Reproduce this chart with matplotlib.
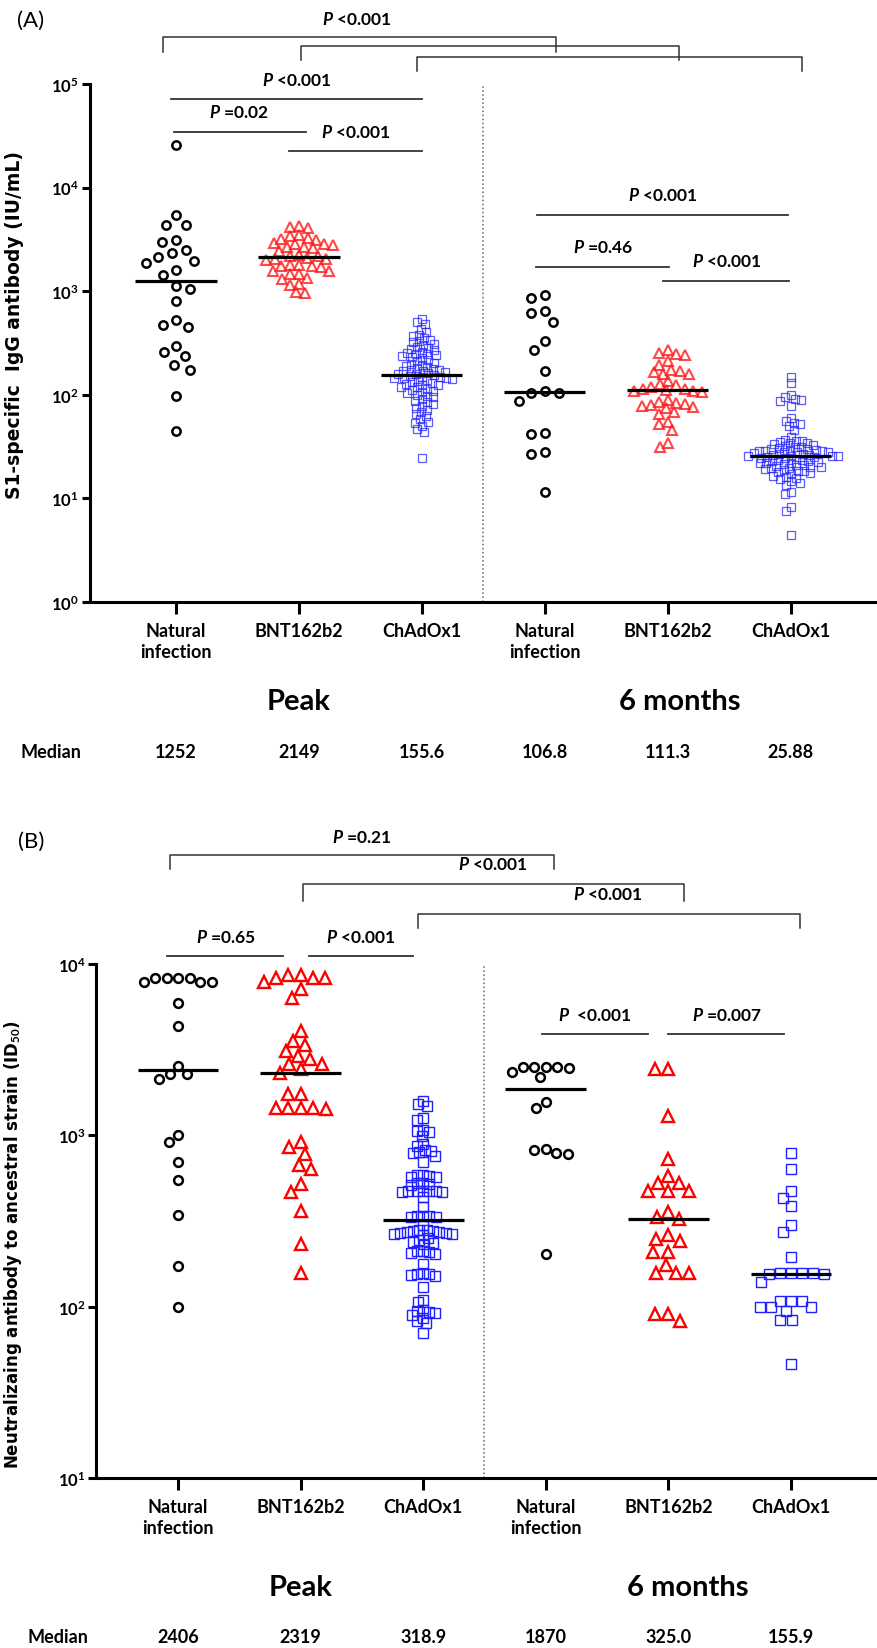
import numpy as np
import matplotlib
matplotlib.use('Agg')
import matplotlib.pyplot as plt

plt.rcParams['font.family'] = ['Lato', 'DejaVu Sans']
plt.rcParams['mathtext.fontset'] = 'custom'
plt.rcParams['mathtext.rm'] = 'Lato'
plt.rcParams['mathtext.bf'] = 'Lato:bold'
plt.rcParams['mathtext.it'] = 'Lato:italic:bold'

# --- Data ---
groups = ['Natural\ninfection', 'BNT162b2', 'ChAdOx1',
          'Natural\ninfection', 'BNT162b2', 'ChAdOx1']

# (A) S1-specific IgG antibody (IU/mL)
a_nat_peak = [25760, 5445, 4355, 4355, 3141, 3006, 2500, 2153, 1945, 1858, 2323,
              1603, 1432, 1050, 1130, 809, 531, 475, 448, 298, 257, 235, 195,
              175, 98, 45]
a_bnt_peak = [4200, 4300, 4100, 3450, 3400, 3200, 3150, 3250, 2850, 2900, 2800,
              2870, 2650, 2700, 2600, 2450, 2200, 2250, 2180, 2050, 2000, 2080,
              2030, 1760, 1780, 1740, 1700, 1800, 1580, 1560, 1470, 1450, 1310,
              1330, 1180, 1160, 980, 960]
a_chad_peak = [540, 500, 480, 431, 400, 372, 380, 350, 340, 330, 321, 310, 300,
               290, 280, 277, 270, 260, 255, 250, 245, 240, 235, 230, 225, 215,
               210, 205, 200, 195, 190, 185, 180, 178, 175, 172, 170, 168, 165,
               162, 160, 158, 154, 152, 150, 148, 146, 144, 142, 140, 145, 132,
               112, 135, 130, 128, 125, 123, 120, 118, 115, 110, 106, 104, 100,
               98, 95, 91, 88, 85, 82, 78, 75, 72, 68, 65, 62, 58, 55, 54, 50,
               47, 44, 24.4]
a_nat_6m = [918, 853, 612, 640, 501, 333, 272, 169, 108, 103, 103, 86.5, 42.8,
            41.9, 27.9, 26.8, 11.6]
a_bnt_6m = [270, 255, 250, 240, 210, 195, 175, 170, 165, 160, 158, 135, 128, 125,
            118, 115, 113, 111, 110, 108, 106, 90, 86, 84, 82, 80, 78, 76, 74,
            68, 65, 55, 52, 46, 34, 31]
a_chad_6m = [149, 130, 100, 95, 92, 90, 88, 78, 60, 56, 54, 52, 50, 46, 39, 37,
             36, 35.8, 35, 34.5, 34, 33.5, 32.5, 32, 31.5, 31, 30.5, 30, 29.8,
             29.2, 29, 28.8, 28.6, 28.4, 28.2, 28, 27.8, 27.5, 27, 26.6, 26.3,
             26.1, 25.9, 25.88, 25.8, 25.5, 25.2, 25, 24.8, 24.5, 24, 23.6, 23.3,
             23, 22.8, 22.5, 22.2, 22, 21.8, 21.5, 21, 20.8, 20.5, 20.2, 20,
             19.8, 19.5, 19.2, 18.8, 18.5, 18.2, 18, 17.6, 17.2, 16.6, 16.2,
             15.8, 15.4, 14.8, 14.2, 13.6, 11.6, 11.0, 8.3, 7.6, 4.4]
a_medians = ['1252', '2149', '155.6', '106.8', '111.3', '25.88']

# (B) Neutralizing antibody to ancestral strain (ID50)
b_nat_peak = [8280, 8280, 7890, 7850, 8280, 7890, 8280, 5890, 4370, 2530, 2280,
              2280, 2130, 1007, 910, 701, 551, 343, 173, 99]
b_bnt_peak = [8280, 7820, 8630, 8280, 8630, 8280, 7140, 6320, 4080, 3570, 3370,
              3120, 2920, 2790, 2600, 2600, 2440, 2320, 1740, 1740, 1450, 1450,
              1440, 1430, 1450, 910, 858, 778, 671, 636, 520, 469, 363, 232, 157]
b_chad_peak = [1590, 1520, 1490, 1260, 1230, 1080, 1064, 1050, 995, 890, 870,
               820, 813, 800, 790, 760, 700, 590, 585, 581, 575, 570, 530, 525,
               520, 510, 476, 475, 474, 473, 472, 470, 468, 434, 380, 340, 338,
               336, 335, 334, 300, 282, 280, 278, 276, 274, 272, 270, 268, 266,
               264, 262, 250, 245, 240, 236, 232, 212, 210, 208, 206, 204, 178,
               158, 156, 155, 153, 150, 130, 110, 106, 96, 94, 93, 92, 90, 86,
               83, 80, 70]
b_nat_6m = [2494, 2494, 2494, 2350, 2494, 2180, 2470, 1560, 1439, 832, 820, 785,
            778, 203]
b_bnt_6m = [2440, 2440, 1300, 728, 581, 525, 525, 471, 471, 471, 358, 332, 325,
            262, 248, 241, 209, 209, 176, 157, 157, 157, 90.6, 90.6, 82.8]
b_chad_6m = [789, 636, 475, 431, 385, 301, 272, 194, 158, 157, 156.5, 156.2,
             155.9, 155.6, 140, 108, 108, 108, 99, 99, 99, 94.6, 83.5, 83.5, 46.3]
b_medians = ['2406', '2319', '318.9', '1870', '325.0', '155.9']


def swarm_x(ax, xc, vals, gap):
    """Place points side by side (beeswarm) around xc, gap in pixels."""
    pix = ax.transData.transform(np.column_stack([np.full(len(vals), float(xc)), vals]))
    x0 = pix[0, 0]
    ys = pix[:, 1]
    order = np.argsort(-ys, kind='stable')
    px, py = [], []
    out = np.zeros(len(vals))
    for i in order:
        y = ys[i]
        cands = [0.0]
        for xj, yj in zip(px, py):
            dy = y - yj
            if abs(dy) < gap:
                dx = np.sqrt(gap ** 2 - dy ** 2)
                cands += [xj + dx, xj - dx]
        cands.sort(key=lambda c: (abs(c), c))
        for c in cands:
            if all((c - xj) ** 2 + (y - yj) ** 2 >= gap ** 2 - 1e-6 for xj, yj in zip(px, py)):
                break
        px.append(c)
        py.append(y)
        out[i] = c
    return ax.transData.inverted().transform(np.column_stack([x0 + out, ys]))[:, 0]


def style_axis(ax, lo, hi, xlo):
    ax.set_yscale('log')
    ax.set_ylim(10 ** lo, 10 ** hi)
    ax.set_xlim(xlo, 5.71)
    ax.set_yticks([10.0 ** k for k in range(lo, hi + 1)])
    ax.set_yticklabels([r'$\mathbf{10^{%d}}$' % k for k in range(lo, hi + 1)])
    ax.yaxis.set_minor_locator(plt.NullLocator())
    ax.set_xticks(range(6))
    ax.set_xticklabels(groups, fontweight='bold', fontsize=13, linespacing=1.25)
    for s in ['top', 'right']:
        ax.spines[s].set_visible(False)
    for s in ['left', 'bottom']:
        ax.spines[s].set_linewidth(2.2)
    ax.tick_params(axis='y', length=6, width=2.2, labelsize=12, pad=2)
    ax.tick_params(axis='x', length=8.5, width=2.2, pad=6)
    ax.axvline(2.5, color='#666666', ls=':', lw=1.1)


def draw_groups(ax, sets, medians, specs, gaps):
    for i, vals in enumerate(sets):
        sp = specs[i % 3]
        xs = swarm_x(ax, i, vals, gaps[i])
        ax.plot(xs, vals, ls='none', marker=sp['marker'], ms=sp['ms'], mfc='none',
                mec=sp['color'], mew=sp['mew'], zorder=3)
        ax.hlines(float(medians[i]), i - 0.33, i + 0.33, color='black', lw=2.3, zorder=5)


def pval(ax, x, y, txt):
    ax.text(x, y, r'$\mathit{P}$ ' + txt, ha='center', va='center', fontsize=12.5,
            fontweight='bold', clip_on=False)


def hline(ax, x1, x2, y):
    ax.plot([x1, x2], [y, y], color='#333333', lw=1.3, clip_on=False)


def bracket(ax, x1, x2, ytop, ybot):
    ax.plot([x1, x1, x2, x2], [ybot, ytop, ytop, ybot], color='#333333', lw=1.1,
            clip_on=False)


def bottom_text(ax, peak_y, med_y, six_x, med_x):
    tr = ax.get_xaxis_transform()
    ax.text(1, peak_y, 'Peak', transform=tr, ha='center', va='center', fontsize=21,
            fontweight='bold')
    ax.text(six_x, peak_y, '6 months', transform=tr, ha='center', va='center',
            fontsize=21, fontweight='bold')
    ax.text(med_x, med_y, 'Median', transform=tr, ha='center', va='center',
            fontsize=13, fontweight='bold', clip_on=False)


fig = plt.figure(figsize=(8.78, 16.49), dpi=100)
axA = fig.add_axes([90 / 878, 1 - 603 / 1649, 788 / 878, 518 / 1649])
axB = fig.add_axes([96.5 / 878, 1 - 1479 / 1649, 781.5 / 878, 514 / 1649])

style_axis(axA, 0, 5, -0.70)
style_axis(axB, 1, 4, -0.665)

specs_a = [
    dict(marker='o', ms=6.0, mew=1.8, color='black'),
    dict(marker='^', ms=7.2, mew=1.5, color=(1.0, 0.1, 0.1, 0.8)),
    dict(marker='s', ms=5.6, mew=0.9, color=(0.15, 0.15, 1.0, 0.75)),
]
specs_b = [
    dict(marker='o', ms=6.3, mew=1.8, color='black'),
    dict(marker='^', ms=8.0, mew=1.7, color='#ff0000'),
    dict(marker='s', ms=6.8, mew=1.0, color='#1f1fff'),
]

draw_groups(axA, [a_nat_peak, a_bnt_peak, a_chad_peak, a_nat_6m, a_bnt_6m, a_chad_6m],
            a_medians, specs_a, [14, 9, 6, 14, 9, 6])
draw_groups(axB, [b_nat_peak, b_bnt_peak, b_chad_peak, b_nat_6m, b_bnt_6m, b_chad_6m],
            b_medians, specs_b, [11.5, 12.5, 6.3, 11.5, 13, 11])

axA.set_ylabel('S1-specific  IgG antibody (IU/mL)', family='DejaVu Sans',
               fontweight='bold', fontsize=13.5)
axA.yaxis.set_label_coords(-0.084, 0.537)
axB.set_ylabel(r'Neutralizaing antibody to ancestral strain (ID$_{\mathbf{50}}$)',
               family='DejaVu Sans', fontweight='bold', fontsize=12)
axB.yaxis.set_label_coords(-0.093, 0.457)

# --- Panel A statistics ---
pval(axA, 1.47, 10 ** 5.637, '<0.001')
bracket(axA, -0.106, 3.09, 10 ** 5.454, 10 ** 5.309)
bracket(axA, 1.02, 4.09, 10 ** 5.367, 10 ** 5.232)
bracket(axA, 1.96, 5.09, 10 ** 5.261, 10 ** 5.125)
pval(axA, 0.98, 10 ** 5.048, '<0.001')
hline(axA, -0.04, 2.0, 10 ** 4.855)
pval(axA, 0.51, 10 ** 4.730, '=0.02')
hline(axA, -0.02, 1.06, 10 ** 4.537)
pval(axA, 1.46, 10 ** 4.546, '<0.001')
hline(axA, 0.92, 2.0, 10 ** 4.353)
pval(axA, 3.96, 10 ** 3.938, '<0.001')
hline(axA, 2.94, 4.98, 10 ** 3.736)
pval(axA, 3.47, 10 ** 3.436, '=0.46')
hline(axA, 2.93, 4.01, 10 ** 3.234)
pval(axA, 4.48, 10 ** 3.292, '<0.001')
hline(axA, 3.96, 4.99, 10 ** 3.098)

# --- Panel B statistics ---
pval(axB, 1.50, 10 ** 4.747, '=0.21')
bracket(axB, -0.065, 3.07, 10 ** 4.636, 10 ** 4.555)
pval(axB, 2.57, 10 ** 4.584, '<0.001')
bracket(axB, 1.02, 4.13, 10 ** 4.467, 10 ** 4.368)
pval(axB, 3.51, 10 ** 4.409, '<0.001')
bracket(axB, 1.96, 5.07, 10 ** 4.292, 10 ** 4.210)
pval(axB, 0.39, 10 ** 4.163, '=0.65')
hline(axB, -0.09, 0.86, 10 ** 4.047)
pval(axB, 1.49, 10 ** 4.163, '<0.001')
hline(axB, 1.07, 1.92, 10 ** 4.047)
pval(axB, 3.40, 10 ** 3.708, ' <0.001')
hline(axB, 2.97, 3.83, 10 ** 3.591)
pval(axB, 4.48, 10 ** 3.708, '=0.007')
hline(axB, 4.0, 4.94, 10 ** 3.591)

# --- Labels under the axes ---
bottom_text(axA, -0.191, -0.288, 4.1, -1.02)
bottom_text(axB, -0.212, -0.309, 4.16, -0.98)
trA = axA.get_xaxis_transform()
trB = axB.get_xaxis_transform()
for i in range(6):
    axA.text(i, -0.288, a_medians[i], transform=trA, ha='center', va='center',
             fontsize=13, fontweight='bold')
    axB.text(i, -0.309, b_medians[i], transform=trB, ha='center', va='center',
             fontsize=13, fontweight='bold')

fig.text(31 / 878, 1 - 21 / 1649, '(A)', ha='center', va='center', fontsize=16)
fig.text(31 / 878, 1 - 842 / 1649, '(B)', ha='center', va='center', fontsize=16)

fig.savefig('out.png', dpi=100)
